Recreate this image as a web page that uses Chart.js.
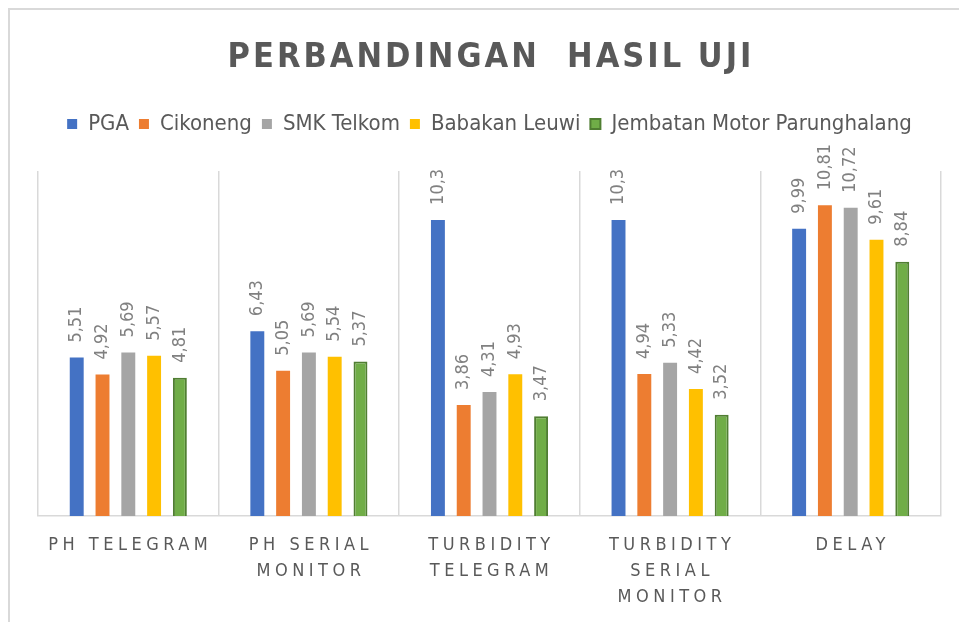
<!DOCTYPE html>
<html>
<head>
<meta charset="utf-8">
<script src="https://cdn.jsdelivr.net/npm/chart.js@4.4.1/dist/chart.umd.min.js"></script>
<style>
    html, body { margin: 0; padding: 0; background: #fff; }
    #wrap { position: relative; width: 959px; height: 622px; }
    #frame { position: absolute; left: 8px; top: 8px; right: 0; bottom: 0; border-top: 2px solid #d9d9d9; border-left: 2px solid #d9d9d9; pointer-events: none; }
</style>
</head>
<body>
<div id="wrap">
    <canvas id="chart" width="959" height="622"></canvas>
    <div id="frame"></div>
</div>
<script>
// datos
const categories = [
    ['PH TELEGRAM'],
    ['PH SERIAL', 'MONITOR'],
    ['TURBIDITY', 'TELEGRAM'],
    ['TURBIDITY', 'SERIAL', 'MONITOR'],
    ['DELAY']
];
const seriesNames = ['PGA', 'Cikoneng', 'SMK Telkom', 'Babakan Leuwi', 'Jembatan Motor Parunghalang'];
const pgaValues = [5.51, 6.43, 10.3, 10.3, 9.99];
const cikonengValues = [4.92, 5.05, 3.86, 4.94, 10.81];
const smkTelkomValues = [5.69, 5.69, 4.31, 5.33, 10.72];
const babakanValues = [5.57, 5.54, 4.93, 4.42, 9.61];
const jembatanValues = [4.81, 5.37, 3.47, 3.52, 8.84];
const seriesColors = ['#4472C4', '#ED7D31', '#A5A5A5', '#FFC000', '#70AD47'];

const TEXT_FONT = '"DejaVu Sans Condensed", sans-serif';

// título con espaciado entre letras
const titlePlugin = {
    id: 'titlePlugin',
    afterDraw(chart) {
        const ctx = chart.ctx;
        const area = chart.chartArea;
        ctx.save();
        ctx.font = 'bold 34px ' + TEXT_FONT;
        ctx.letterSpacing = '3px';
        ctx.fillStyle = '#595959';
        ctx.textAlign = 'center';
        ctx.textBaseline = 'middle';
        ctx.fillText('PERBANDINGAN  HASIL UJI', (area.left + area.right) / 2 + 1.5, 58);
        ctx.restore();
    }
};

// etiquetas de categoría (multi-línea, espaciadas)
const categoryLabels = {
    id: 'categoryLabels',
    afterDraw(chart) {
        const ctx = chart.ctx;
        const xScale = chart.scales.x;
        ctx.save();
        ctx.font = '18px ' + TEXT_FONT;
        ctx.letterSpacing = '4.5px';
        ctx.fillStyle = '#595959';
        ctx.textAlign = 'center';
        ctx.textBaseline = 'middle';
        categories.forEach((lines, i) => {
            const x = xScale.getPixelForValue(i);
            lines.forEach((line, j) => {
                ctx.fillText(line, x + 2, chart.chartArea.bottom + 29 + j * 26);
            });
        });
        ctx.restore();
    }
};

// valores encima de cada barra, rotados
const valueLabels = {
    id: 'valueLabels',
    afterDatasetsDraw(chart) {
        const ctx = chart.ctx;
        ctx.save();
        ctx.font = '18px ' + TEXT_FONT;
        ctx.fillStyle = '#808080';
        ctx.textAlign = 'left';
        ctx.textBaseline = 'middle';
        chart.data.datasets.forEach((ds, di) => {
            const meta = chart.getDatasetMeta(di);
            meta.data.forEach((bar, i) => {
                const txt = String(ds.data[i]).replace('.', ',');
                ctx.save();
                ctx.translate(bar.x, bar.y - 15);
                ctx.rotate(-Math.PI / 2);
                ctx.fillText(txt, 0, 0);
                ctx.restore();
            });
        });
        ctx.restore();
    }
};

// espacio extra debajo de la leyenda
const legendMargin = {
    id: 'legendMargin',
    beforeInit(chart) {
        const origFit = chart.legend.fit;
        chart.legend.fit = function () {
            origFit.bind(chart.legend)();
            this.height += 26;
        };
    }
};

const datasetValues = [pgaValues, cikonengValues, smkTelkomValues, babakanValues, jembatanValues];

const ctx = document.getElementById('chart').getContext('2d');
new Chart(ctx, {
    type: 'bar',
    data: {
        labels: categories.map(c => c.join(' ')),
        datasets: seriesNames.map((name, i) => ({
            label: name,
            data: datasetValues[i],
            backgroundColor: seriesColors[i],
            borderColor: i === 4 ? '#507E32' : seriesColors[i],
            borderWidth: i === 4 ? 2 : 0,
            categoryPercentage: 0.714,
            barPercentage: 0.54
        }))
    },
    options: {
        responsive: false,
        animation: false,
        layout: {
            padding: { top: 103, left: 38, right: 18, bottom: 106 }
        },
        scales: {
            x: {
                offset: true,
                grid: {
                    offset: true,
                    color: '#d9d9d9',
                    lineWidth: 1.5,
                    drawTicks: false
                },
                border: { color: '#d9d9d9', width: 1.5 },
                ticks: { display: false }
            },
            y: {
                display: false,
                min: 0,
                max: 12
            }
        },
        plugins: {
            legend: {
                position: 'top',
                labels: {
                    boxWidth: 10,
                    boxHeight: 10,
                    padding: 10,
                    color: '#595959',
                    font: { family: TEXT_FONT, size: 22 }
                }
            },
            title: { display: false },
            tooltip: { enabled: false }
        }
    },
    plugins: [legendMargin, titlePlugin, categoryLabels, valueLabels]
});
</script>
</body>
</html>
